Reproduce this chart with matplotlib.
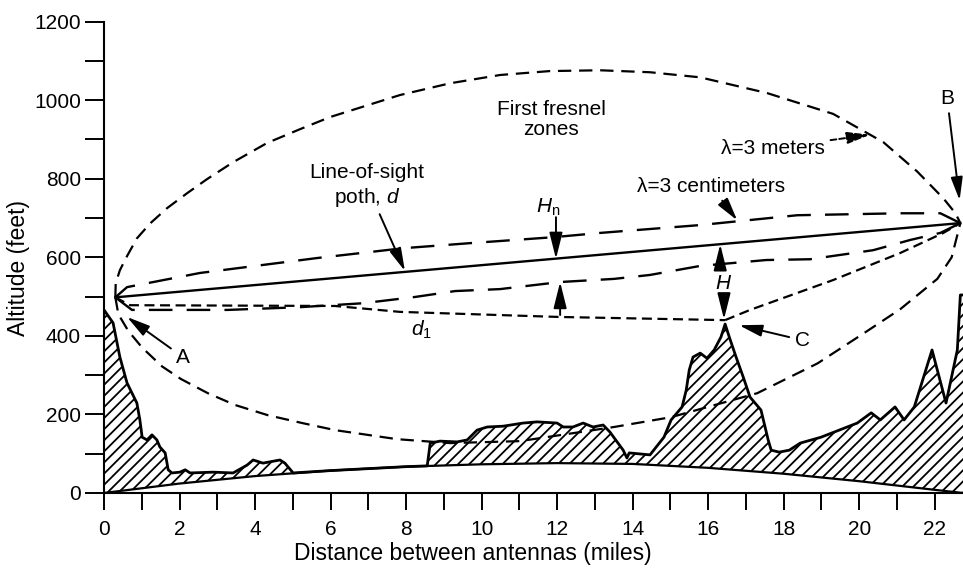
import numpy as np
import matplotlib.pyplot as plt

plt.rcParams['font.family'] = ['Liberation Sans', 'DejaVu Sans']
plt.rcParams['mathtext.fontset'] = 'custom'
plt.rcParams['mathtext.rm'] = 'Liberation Sans'
plt.rcParams['mathtext.it'] = 'Liberation Sans:italic'
plt.rcParams['hatch.linewidth'] = 1.3
plt.rcParams['hatch.color'] = 'black'

# antennas and the obstruction (miles, feet)
ant_a = (0.3, 498)
ant_b = (22.68, 687)
point_c = (16.45, 440)

# earth bulge (k = 4/3) under the path
earth_x = [0, 2, 4, 6, 8, 10, 12, 14, 16, 18, 20, 22, 22.75]
earth_y = [0, 24, 43, 57, 67, 73, 76, 74, 64, 49, 30, 8, 0]

# terrain profile
terrain_x = [0.0, 0.24, 0.42, 0.61, 0.87, 0.95, 1.01, 1.14, 1.27, 1.40, 1.48, 1.62,
             1.70, 1.80, 2.01, 2.15, 2.28, 2.89, 3.42, 3.79, 3.95, 4.21, 4.66, 4.79,
             5.01, 6.0, 7.0, 8.0, 8.56, 8.64, 8.90, 9.35, 9.62, 9.88, 10.15, 10.57,
             11.10, 11.47, 12.0, 12.16, 12.42, 12.69, 12.95, 13.22, 13.40, 13.59,
             13.75, 13.85, 13.91, 14.46, 14.83, 15.02, 15.31, 15.42, 15.50, 15.60,
             15.79, 15.97, 16.16, 16.34, 16.45, 16.56, 16.74, 16.93, 17.11, 17.40,
             17.59, 17.67, 17.88, 18.15, 18.44, 18.99, 19.47, 19.95, 20.32, 20.56,
             20.95, 21.19, 21.46, 21.93, 22.30, 22.60, 22.68, 22.75]
terrain_y = [466, 433, 346, 280, 229, 186, 142, 135, 148, 135, 117, 102,
             59, 51, 53, 59, 51, 53, 51, 71, 84, 76, 84, 76,
             51, 57, 62, 67, 69, 127, 132, 130, 135, 160, 168, 170,
             178, 181, 178, 168, 168, 178, 168, 173, 155, 130,
             109, 89, 102, 97, 142, 186, 219, 262, 313, 346,
             356, 343, 364, 397, 430, 397, 346, 295, 244, 211,
             135, 109, 104, 109, 127, 142, 160, 178, 204, 186,
             219, 186, 219, 364, 229, 364, 504, 504]

# first fresnel zone, lambda = 3 m (upper and lower edges, A to B)
zone_m_up_x = [0.3, 0.31, 0.42, 0.61, 0.87, 1.22, 1.67, 2.20, 2.73, 3.42, 4.32, 5.19,
               5.99, 7.84, 9.17, 10.49, 11.81, 13.14, 14.46, 15.79, 17.56, 19.31,
               20.64, 21.54, 22.23, 22.55, 22.68]
zone_m_up_y = [498, 534, 567, 603, 648, 686, 725, 763, 799, 842, 891, 926,
               957, 1013, 1043, 1064, 1074, 1076, 1071, 1058, 1018, 965,
               893, 818, 750, 712, 687]
zone_m_lo_x = [0.3, 0.38, 0.64, 1.01, 1.54, 2.04, 2.75, 3.47, 4.34, 5.25, 6.12, 7.76,
               9.17, 11.02, 13.51, 15.02, 17.30, 18.90, 20.13, 21.09, 22.07, 22.45, 22.68]
zone_m_lo_y = [498, 455, 413, 370, 322, 290, 254, 224, 198, 178, 160, 137,
               127, 132, 168, 193, 254, 330, 407, 468, 545, 600, 687]

# first fresnel zone, lambda = 3 cm
zone_cm_up_x = [0.3, 0.61, 2.54, 5.64, 7.92, 9.70, 11.89, 13.14, 15.79, 18.36, 21.09, 22.15, 22.68]
zone_cm_up_y = [498, 524, 560, 598, 623, 636, 651, 662, 682, 707, 712, 712, 687]
zone_cm_lo_x = [0.3, 0.74, 3.28, 5.19, 6.86, 8.24, 9.30, 10.49, 12.08, 13.51, 14.46,
                15.79, 17.54, 18.70, 20.37, 21.35, 22.15, 22.68]
zone_cm_lo_y = [498, 466, 466, 473, 483, 499, 514, 519, 537, 545, 555,
                578, 593, 595, 618, 644, 662, 687]

# A to C (distance d1) and C to B
d1_x = [0.3, 0.69, 6.12, 7.84, 12.08, 16.45]
d1_y = [498, 478, 476, 461, 448, 440]
cb_x = [16.45, 17.11, 19.31, 21.09, 22.23, 22.68]
cb_y = [440, 466, 542, 611, 662, 687]

x_ticks = list(range(0, 23, 2))
y_ticks = list(range(0, 1201, 200))

fig = plt.figure(figsize=(9.63, 5.69), dpi=100)
ax = fig.add_axes([0.108, 0.1336, 0.892, 0.8285])

# hatched terrain between earth bulge and profile
ax.fill(terrain_x + earth_x[::-1], terrain_y + earth_y[::-1],
        facecolor='white', edgecolor='black', hatch='///', linewidth=0, zorder=1)
ax.plot(terrain_x, terrain_y, color='black', lw=2.0, zorder=2)
ax.plot(earth_x, earth_y, color='black', lw=1.6, zorder=2)

# line of sight
ax.plot([ant_a[0], ant_b[0]], [ant_a[1], ant_b[1]], color='black', lw=1.7, zorder=3)

zone_m_style = dict(color='black', lw=1.6, ls=(0, (6, 3.5)), zorder=3)
ax.plot(zone_m_up_x, zone_m_up_y, **zone_m_style)
ax.plot(zone_m_lo_x, zone_m_lo_y, **zone_m_style)
zone_cm_style = dict(color='black', lw=1.7, ls=(0, (10, 6)), zorder=3)
ax.plot(zone_cm_up_x, zone_cm_up_y, **zone_cm_style)
ax.plot(zone_cm_lo_x, zone_cm_lo_y, **zone_cm_style)
short_style = dict(color='black', lw=1.6, ls=(0, (4.5, 2.5)), zorder=3)
ax.plot(d1_x, d1_y, **short_style)
ax.plot(cb_x, cb_y, **short_style)

arrow = dict(arrowstyle='-|>,head_length=0.7,head_width=0.18', color='black',
             lw=1.4, mutation_scale=20, shrinkA=2, shrinkB=0)
fs = 15

def label(txt, xy, xytext, **kw):
    props = dict(arrow)
    props.update(kw)
    ax.annotate(txt, xy=xy, xytext=xytext, fontsize=fs, ha='center', va='center',
                arrowprops=props, zorder=4)

label('A', (0.61, 448), (2.09, 346))
label('B', (22.66, 745), (22.33, 1005))
label('C', (16.82, 427), (18.49, 389))
label('λ=3 meters', (20.29, 912), (17.72, 878), linestyle=(0, (3, 1.5)))
label('λ=3 centimeters', (16.77, 694), (16.08, 781))
label('Line-of-sight\npoth, $\\mathit{d}$', (7.97, 565), (6.97, 781))

ax.text(11.85, 951, 'First fresnel\nzones', fontsize=fs, ha='center', va='center',
        linespacing=1.1)
ax.text(8.40, 415, r'$\mathit{d}_{\mathrm{1}}$', fontsize=fs, ha='center', va='center')
ax.text(11.76, 727, r'$\mathit{H}_{\mathrm{n}}$', fontsize=fs, ha='center', va='center')
ax.text(16.40, 534, r'$\mathit{H}$', fontsize=fs, ha='center', va='center')

# dimension arrows for Hn and H
dim = dict(arrowstyle='-|>,head_length=0.8,head_width=0.2', color='black',
           lw=1.4, mutation_scale=20, shrinkA=0, shrinkB=0)
ax.annotate('', xy=(11.97, 596), xytext=(11.97, 702), arrowprops=dim)
ax.annotate('', xy=(12.08, 537), xytext=(12.08, 453), arrowprops=dim)
ax.annotate('', xy=(16.32, 633), xytext=(16.32, 567), arrowprops=dim)
ax.annotate('', xy=(16.42, 442), xytext=(16.42, 504), arrowprops=dim)

ax.set_xlim(0, 22.75)
ax.set_ylim(0, 1200)
ax.set_xticks(x_ticks)
ax.set_xticks(range(1, 23, 2), minor=True)
ax.set_yticks(y_ticks)
ax.set_yticks(range(100, 1200, 200), minor=True)
ax.tick_params(axis='y', which='both', length=13.5, width=1.4, pad=3, labelsize=fs)
ax.tick_params(axis='x', which='both', length=12.5, width=1.4, pad=7, labelsize=fs)
for side in ['top', 'right']:
    ax.spines[side].set_visible(False)
for side in ['left', 'bottom']:
    ax.spines[side].set_linewidth(1.5)

ax.set_xlabel('Distance between antennas (miles)', fontsize=16.5)
ax.xaxis.set_label_coords(0.4296, -0.104)
ax.set_ylabel('Altitude (feet)', fontsize=16.5)
ax.yaxis.set_label_coords(-0.086, 0.477)

fig.savefig('out.png', dpi=100)
